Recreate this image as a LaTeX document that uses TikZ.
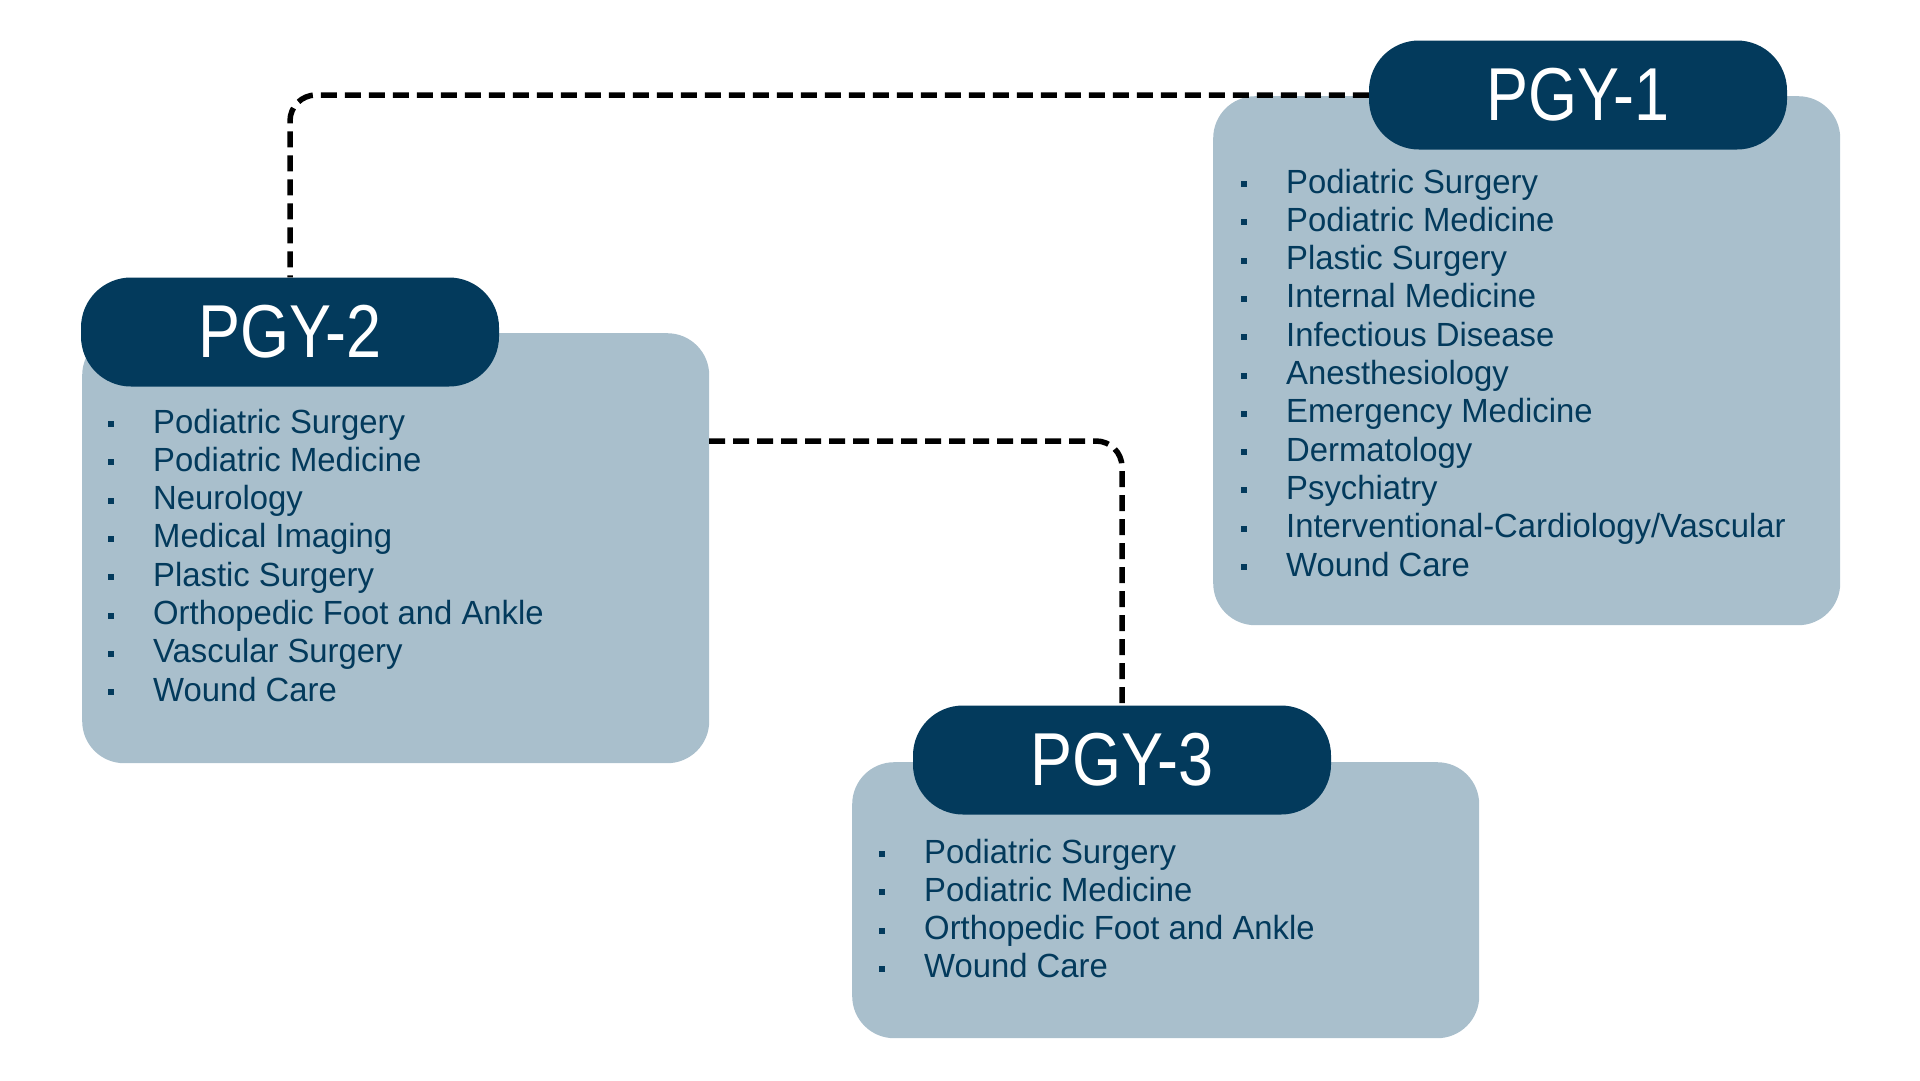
\documentclass[tikz,border=0pt]{standalone}
\usepackage{fontspec}
\setmainfont{Liberation Sans}[FakeStretch=0.98]
\newfontfamily\headfont{Liberation Sans}[FakeStretch=0.84]
\definecolor{pgynavy}{HTML}{033A5C}
\definecolor{pgygrey}{HTML}{A9BFCC}
\tikzset{
  yearbox/.style={fill=pgygrey, rounded corners=42pt, anchor=north west, inner sep=0pt, minimum width=627pt},
  yeartag/.style={fill=pgynavy, rounded corners=50pt, minimum width=418pt, minimum height=109pt, inner sep=0pt, text=white, font=\headfont\fontsize{75}{75}\selectfont},
  item/.style={anchor=base west, inner sep=0pt, text=pgynavy, font=\fontsize{33.5}{38}\selectfont},
  link/.style={line width=5.5pt, dash pattern=on 16pt off 8pt, rounded corners=26pt}
}
\newcommand{\itembullet}{\makebox[45pt][l]{\raisebox{6pt}{\rule{6pt}{6pt}}}}
\begin{document}
\begin{tikzpicture}[x=1pt,y=-1pt]
            \useasboundingbox (0,0) rectangle (1920,1080);

            % light panels
            \node[yearbox, minimum height=529pt] (box1) at (1213,96) {};
            \node[yearbox, minimum height=430pt] (box2) at (82,333) {};
            \node[yearbox, minimum height=276pt] (box3) at (852,762) {};

            % year tags
            \node[yeartag] (head1) at (1578,95) {PGY-1};
            \node[yeartag] (head2) at (290,332) {PGY-2};
            \node[yeartag] (head3) at (1122,760) {PGY-3};

            % PGY-1 list
            \node[item] (one1) at (1241,193.0) {\itembullet Podiatric Surgery};
            \node[item] (one2) at (1241,231.3) {\itembullet Podiatric Medicine};
            \node[item] (one3) at (1241,269.6) {\itembullet Plastic Surgery};
            \node[item] (one4) at (1241,307.9) {\itembullet Internal Medicine};
            \node[item] (one5) at (1241,346.2) {\itembullet Infectious Disease};
            \node[item] (one6) at (1241,384.5) {\itembullet Anesthesiology};
            \node[item] (one7) at (1241,422.8) {\itembullet Emergency Medicine};
            \node[item] (one8) at (1241,461.1) {\itembullet Dermatology};
            \node[item] (one9) at (1241,499.4) {\itembullet Psychiatry};
            \node[item] (one10) at (1241,537.7) {\itembullet Interventional-Cardiology/Vascular};
            \node[item] (one11) at (1241,576.0) {\itembullet Wound Care};

            % PGY-2 list
            \node[item] (two1) at (108,433.0) {\itembullet Podiatric Surgery};
            \node[item] (two2) at (108,471.3) {\itembullet Podiatric Medicine};
            \node[item] (two3) at (108,509.6) {\itembullet Neurology};
            \node[item] (two4) at (108,547.9) {\itembullet Medical Imaging};
            \node[item] (two5) at (108,586.2) {\itembullet Plastic Surgery};
            \node[item] (two6) at (108,624.5) {\itembullet Orthopedic Foot and Ankle};
            \node[item] (two7) at (108,662.8) {\itembullet Vascular Surgery};
            \node[item] (two8) at (108,701.1) {\itembullet Wound Care};

            % PGY-3 list
            \node[item] (three1) at (879,863.0) {\itembullet Podiatric Surgery};
            \node[item] (three2) at (879,901.3) {\itembullet Podiatric Medicine};
            \node[item] (three3) at (879,939.6) {\itembullet Orthopedic Foot and Ankle};
            \node[item] (three4) at (879,977.9) {\itembullet Wound Care};

            % dashed links
            \coordinate (tap2) at (709,441);
            \draw[link] (head1.west) -| (head2.north);
            \draw[link] (tap2) -| (head3.north);
        \end{tikzpicture}
\end{document}
